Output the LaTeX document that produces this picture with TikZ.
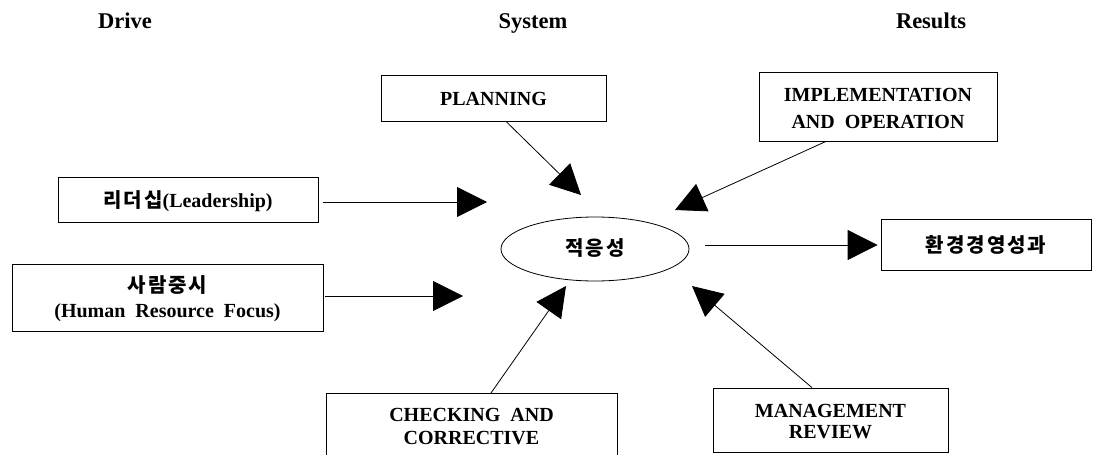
\documentclass[tikz,border=0pt]{standalone}
\usepackage{fontspec}
\setmainfont{Liberation Serif}
\newfontfamily\kr[LetterSpace=10]{Noto Sans CJK KR}
\usetikzlibrary{arrows.meta,shapes.geometric}
\begin{document}
\begin{tikzpicture}[x=1pt,y=-1pt,
  box/.style={draw,line width=0.8pt,inner sep=0pt},
  txt/.style={font=\fontsize{20}{25}\selectfont\bfseries,align=center,inner sep=0pt},
  hdr/.style={font=\fontsize{22.5}{27}\selectfont\bfseries,inner sep=0pt,anchor=base},
  arr/.style={line width=0.8pt,-{Triangle[length=30pt,width=30pt]}},
]
\useasboundingbox (0,0) rectangle (1093,455);
\clip (0,0) rectangle (1093,455);
% headers
\node[hdr] (hdrive) at (125,28) {Drive};
\node[hdr] (hsys) at (533,28) {System};
\node[hdr] (hres) at (931,28) {Results};
% boxes
\node[box,minimum width=225pt,minimum height=46pt] (plan) at (493.5,98) {};
\node[txt] (plant) at (493.5,99) {PLANNING};
\node[box,minimum width=238pt,minimum height=69pt] (impl) at (878,106.5) {};
\node[txt,font=\fontsize{20}{27}\selectfont\bfseries] (implt) at (878,108) {IMPLEMENTATION\\AND\ \ OPERATION};
\node[box,minimum width=260pt,minimum height=45pt] (lead) at (188,199.5) {};
\node[txt] (leadt) at (188,201) {{\kr\bfseries 리더십}(Leadership)};
\node[box,minimum width=311pt,minimum height=67pt] (hum) at (167.5,297.5) {};
\node[txt] (humt) at (167.5,299) {{\kr\bfseries 사람중시}\\(Human\ \ Resource\ \ Focus)};
\node[draw,ellipse,line width=0.8pt,minimum width=188pt,minimum height=64pt,inner sep=0pt] (core) at (595,249) {};
\node[txt] (coret) at (595,248) {\kr\bfseries 적응성};
\node[box,minimum width=210pt,minimum height=51pt] (res) at (986,245) {};
\node[txt] (rest) at (986,245) {\kr\bfseries 환경경영성과};
\node[box,minimum width=291pt,minimum height=90pt,anchor=north] (chk) at (471.5,393) {};
\node[txt,font=\fontsize{20}{23}\selectfont\bfseries] (chkt) at (471.5,427) {CHECKING\ \ AND\\CORRECTIVE};
\node[box,minimum width=235pt,minimum height=64pt] (mgmt) at (830.5,420) {};
\node[txt,font=\fontsize{20}{21}\selectfont\bfseries] (mgmtt) at (830.5,422) {MANAGEMENT\\REVIEW};
% arrow tips
\coordinate (tlead) at (487,202);
\coordinate (thum) at (463,296);
\coordinate (tplan) at (581,195);
\coordinate (timpl) at (675,210);
\coordinate (tres) at ([xshift=-3pt]res.west);
\coordinate (tchk) at (566,286);
\coordinate (tmgmt) at (692,286);
% connectors
\draw[arr] ([xshift=5pt]lead.east |- tlead) -- (tlead);
\draw[arr] ([xshift=2pt]hum.east |- thum) -- (thum);
\draw[arr] ([xshift=12.5pt]plan.south) -- (tplan);
\draw[arr] ([xshift=-52pt]impl.south) -- (timpl);
\draw[arr] ([xshift=16pt]core.east |- tres) -- (tres);
\draw[arr] ([xshift=19.5pt]chk.north) -- (tchk);
\draw[arr] ([xshift=-18.5pt]mgmt.north) -- (tmgmt);
\end{tikzpicture}
\end{document}
